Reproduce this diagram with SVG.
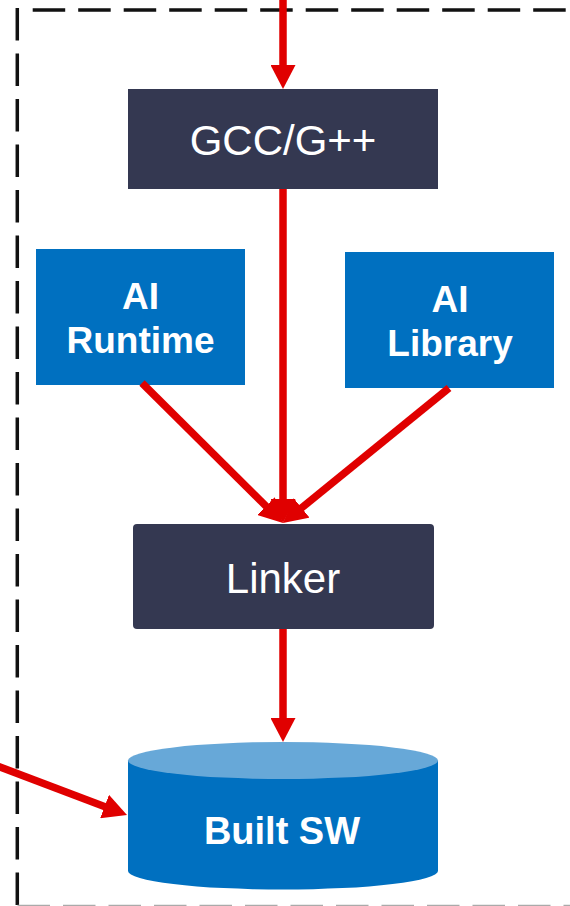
<svg xmlns="http://www.w3.org/2000/svg" width="570" height="906" viewBox="0 0 570 906">
  <defs>
    <style>
      .frame { fill: none; stroke: #111111; stroke-width: 3.5; stroke-dasharray: 32.5 13; }
      .frame-edge { fill: none; stroke: #AAAAAA; stroke-width: 1.2; stroke-dasharray: 32.5 13; }
      .dark { fill: #343851; }
      .blue { fill: #0070C0; }
      .cap { fill: #67A8D8; }
      .wire { fill: none; stroke: #E00000; stroke-width: 7.5; marker-end: url(#head); }
      .lbl { font-family: "Liberation Sans", Arial, sans-serif; fill: #FFFFFF; text-anchor: middle; }
      .reg { font-size: 42px; }
      .bold { font-size: 37px; font-weight: bold; }
    </style>
    <marker id="head" markerUnits="userSpaceOnUse" markerWidth="24" markerHeight="25" refX="4" refY="12.5" orient="auto">
      <path d="M0,0 L24,12.5 L0,25 z" fill="#E00000"/>
    </marker>
  </defs>

  <!-- dashed boundary -->
  <g id="boundary">
    <line class="frame" x1="32.7" y1="10" x2="580" y2="10"/>
    <line class="frame" x1="17.3" y1="8" x2="17.3" y2="906"/>
    <line class="frame-edge" x1="17.5" y1="905.4" x2="580" y2="905.4"/>
  </g>

  <!-- nodes -->
  <g id="gcc">
    <rect class="dark" x="128" y="89" width="310" height="100"/>
    <text class="lbl reg" x="283" y="155">GCC/G++</text>
  </g>

  <g id="ai-runtime">
    <rect class="blue" x="36" y="249" width="209" height="136"/>
    <text class="lbl bold" x="140.5" y="309">AI</text>
    <text class="lbl bold" x="140.5" y="353">Runtime</text>
  </g>

  <g id="ai-library">
    <rect class="blue" x="345" y="252" width="209" height="136"/>
    <text class="lbl bold" x="450" y="312">AI</text>
    <text class="lbl bold" x="450" y="356">Library</text>
  </g>

  <g id="linker">
    <rect class="dark" x="133" y="524" width="301" height="105" rx="4" ry="4"/>
    <text class="lbl reg" x="283" y="593">Linker</text>
  </g>

  <g id="built-sw">
    <path class="blue" d="M128,760.5 V871 A155,18.5 0 0 0 438,871 V760.5 Z"/>
    <ellipse class="cap" cx="283" cy="760.5" rx="155" ry="18.5"/>
    <text class="lbl bold" x="282" y="844" style="font-size:38px">Built SW</text>
  </g>

  <!-- connectors -->
  <g id="connectors">
    <line class="wire" x1="283" y1="-5" x2="283" y2="69"/>
    <line class="wire" x1="283" y1="189" x2="283" y2="503"/>
    <line class="wire" x1="142" y1="383" x2="268.8" y2="508.9"/>
    <line class="wire" x1="449" y1="388" x2="298.5" y2="510.4"/>
    <line class="wire" x1="283" y1="629" x2="283" y2="722"/>
    <line class="wire" x1="-5" y1="765" x2="108.3" y2="807.9"/>
  </g>
</svg>
